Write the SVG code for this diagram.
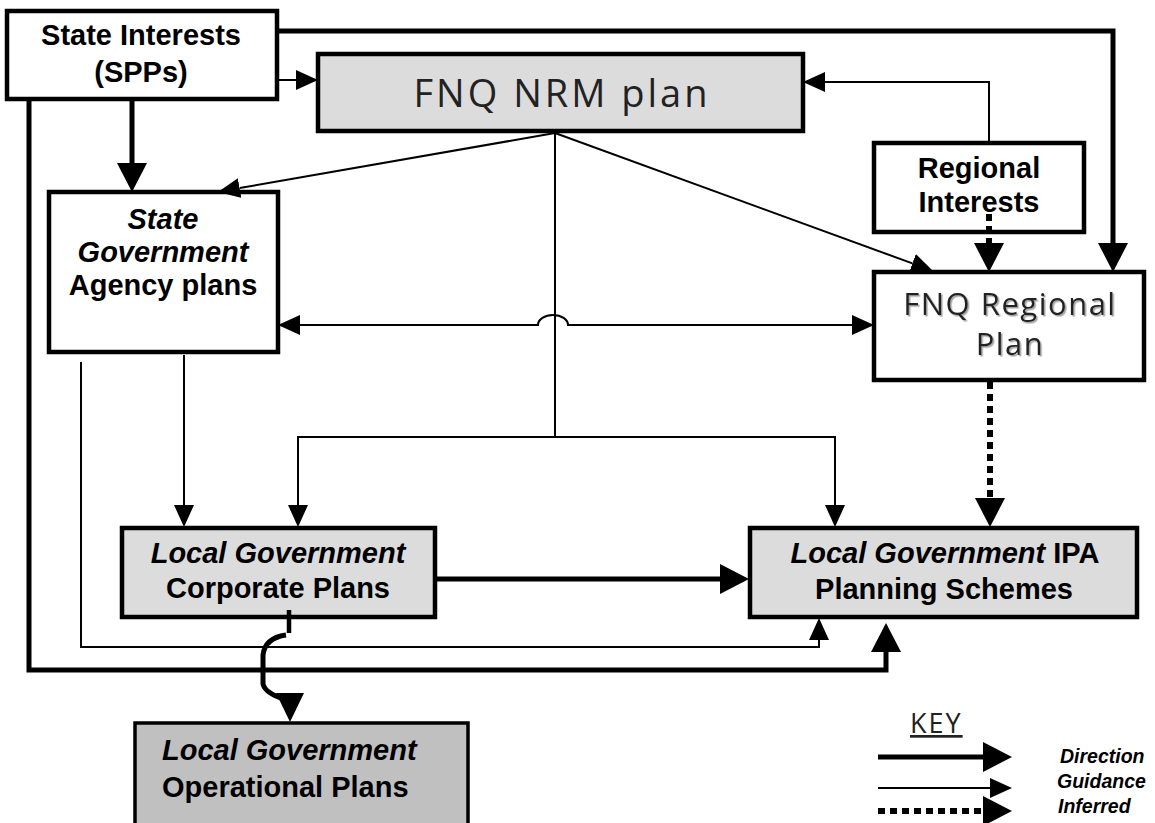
<svg xmlns="http://www.w3.org/2000/svg" width="1155" height="823" viewBox="0 0 1155 823">
<style>
.box{stroke:#000;stroke-width:4.5;}
.w{fill:#fff;}
.g{fill:#dcdcdc;}
.g2{fill:#c0c0c0;}
.b{font-family:"Liberation Sans",Arial,sans-serif;font-weight:bold;font-size:29px;fill:#000;}
.bi{font-style:italic;}
.c{text-anchor:middle;}
.thin{fill:none;stroke:#000;stroke-width:2;}
.thick{fill:none;stroke:#000;stroke-width:5;}
.dot{fill:none;stroke:#000;stroke-width:6;stroke-dasharray:7 5;}
.light{font-family:"Open Sans","DejaVu Sans",sans-serif;fill:#222;}
.key{font-family:"Liberation Sans",Arial,sans-serif;font-weight:bold;font-style:italic;font-size:19.5px;fill:#000;}
</style>
<defs>
<marker id="aThin" markerUnits="userSpaceOnUse" markerWidth="24" markerHeight="22" refX="0" refY="10" orient="auto-start-reverse">
<path d="M0,0 L22,10 L0,20 Z" fill="#000"/>
</marker>
<marker id="aThick" markerUnits="userSpaceOnUse" markerWidth="31" markerHeight="32" refX="0" refY="15" orient="auto-start-reverse">
<path d="M0,0 L29,15 L0,30 Z" fill="#000"/>
</marker>
<filter id="sh" x="-10%" y="-10%" width="120%" height="130%">
<feDropShadow dx="1.5" dy="1.5" stdDeviation="0.6" flood-color="#999" flood-opacity="0.9"/>
</filter>
</defs>

<g id="state-interests">
<rect class="box w" x="7" y="11" width="270" height="88"/>
<text class="b c" x="141" y="45">State Interests</text>
<text class="b c" x="141" y="82">(SPPs)</text>
</g>

<g id="nrm-plan">
<rect class="box g" x="318" y="54" width="485" height="77"/>
<text class="light c" x="562" y="107" font-size="38" letter-spacing="3">FNQ NRM plan</text>
</g>

<g id="regional-interests">
<rect class="box w" x="874" y="143" width="210" height="89"/>
<text class="b c" x="979" y="178">Regional</text>
<text class="b c" x="979" y="212">Interests</text>
</g>

<g id="agency-plans">
<rect class="box w" x="49" y="192" width="229" height="160"/>
<text class="b bi c" x="163" y="229">State</text>
<text class="b bi c" x="163" y="262">Government</text>
<text class="b c" x="163" y="295">Agency plans</text>
</g>

<g id="regional-plan">
<rect class="box w" x="874" y="272" width="270" height="108"/>
<g filter="url(#sh)">
<text class="light c" x="1010" y="315" font-size="31" letter-spacing="1.5" fill="#333">FNQ Regional</text>
<text class="light c" x="1010" y="355" font-size="31" letter-spacing="1.5" fill="#333">Plan</text>
</g>
</g>

<g id="corporate-plans">
<rect class="box g" x="122" y="528" width="313" height="89"/>
<text class="b bi c" x="278" y="563">Local Government</text>
<text class="b c" x="278" y="598">Corporate Plans</text>
</g>

<g id="planning-schemes">
<rect class="box g" x="750" y="528" width="387" height="89"/>
<text class="b c" x="945" y="563"><tspan font-style="italic">Local Government</tspan> IPA</text>
<text class="b c" x="944" y="599">Planning Schemes</text>
</g>

<g id="operational-plans">
<rect class="g2" x="135" y="723" width="333" height="110" stroke="#000" stroke-width="3.5"/>
<text class="b bi" x="162" y="760">Local Government</text>
<text class="b" x="162" y="797">Operational Plans</text>
</g>

<g id="connectors">
<!-- thick direction lines -->
<path class="thick" d="M277,31 H1113 V243" marker-end="url(#aThick)"/>
<path class="thick" d="M132,101 V163" marker-end="url(#aThick)"/>
<path class="thick" d="M29,101 V670 H886 V652" marker-end="url(#aThick)"/>
<path class="thick" d="M437,579 H720" marker-end="url(#aThick)"/>
<!-- corporate to operational -->
<path d="M289,610 V633" fill="none" stroke="#000" stroke-width="4.5"/>
<path class="thick" d="M286,635 Q265,638 263,655 L263,684 Q265,693 284,699"/>
<polygon points="276,693 304,693 290,722" fill="#000"/>
<!-- thin guidance lines -->
<path class="thin" d="M279,80 H296" marker-end="url(#aThin)"/>
<path class="thin" d="M555,133 L239.6,188.1" marker-end="url(#aThin)"/>
<path class="thin" d="M555,133 L912.4,263.4" marker-end="url(#aThin)"/>
<path class="thin" d="M989,141 V82 H825" marker-end="url(#aThin)"/>
<path class="thin" d="M555,133 V437"/>
<path class="thin" d="M555,437 H298 V505" marker-end="url(#aThin)"/>
<path class="thin" d="M555,437 H835 V505" marker-end="url(#aThin)"/>
<path class="thin" d="M300,325 H538 A15 10 0 0 1 568 325 H852" marker-start="url(#aThin)" marker-end="url(#aThin)"/>
<path class="thin" d="M184,355 V505" marker-end="url(#aThin)"/>
<path class="thin" d="M81,362 V647 H819 V640" marker-end="url(#aThin)"/>
<!-- inferred dotted -->
<path class="dot" d="M989,214 V243" stroke-dasharray="5 5" marker-end="url(#aThick)"/>
<path class="dot" d="M990,382 V498" marker-end="url(#aThick)"/>
</g>

<g id="key">
<text class="light" x="910" y="733" font-size="27" letter-spacing="2" fill="#000" text-decoration="underline">KEY</text>
<path class="thick" d="M878,757 H983" stroke-width="6" marker-end="url(#aThick)"/>
<path class="thin" d="M878,788 H990" marker-end="url(#aThin)"/>
<path class="dot" d="M878,811 H983" stroke-dasharray="7 5" marker-end="url(#aThick)"/>
<text class="key" x="1060" y="763">Direction</text>
<text class="key" x="1057" y="788">Guidance</text>
<text class="key" x="1058" y="813">Inferred</text>
</g>
</svg>
